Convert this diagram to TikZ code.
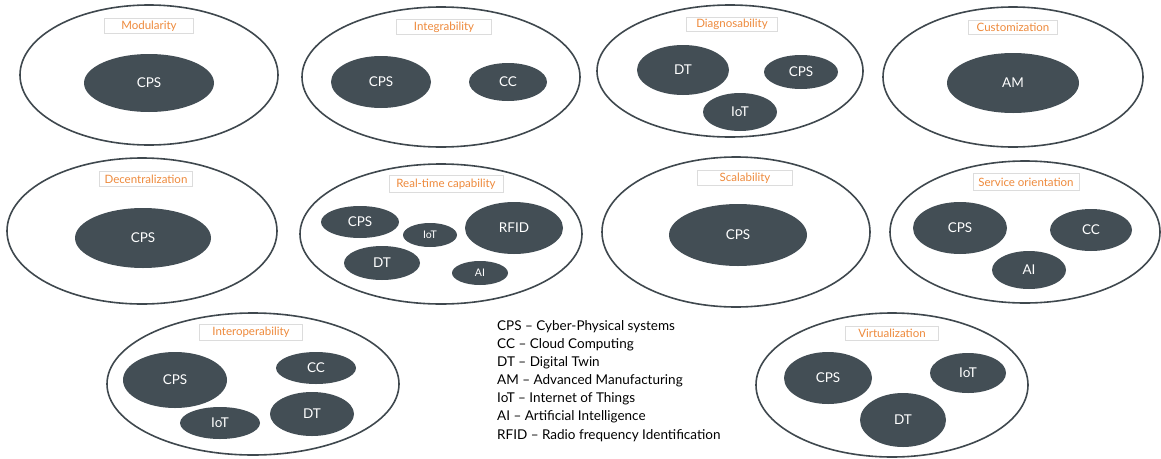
\documentclass[tikz,border=0pt]{standalone}
\usepackage{fontspec}
\setmainfont{Lato}
\usetikzlibrary{shapes.geometric}
\definecolor{slate}{HTML}{434E55}
\definecolor{rim}{HTML}{3F484E}
\definecolor{tag}{HTML}{EE8A3C}
\definecolor{tagrim}{HTML}{DCDCDC}
\tikzset{
  group/.style={ellipse, draw=rim, line width=1.6pt, fill=white, inner sep=0pt},
  tech/.style={ellipse, fill=slate, text=white, inner sep=0pt, font=\fontsize{13.5}{15}\selectfont},
  techsmall/.style={tech, font=\fontsize{10.5}{12}\selectfont},
  tagbox/.style={draw=tagrim, line width=0.8pt, fill=white, text=tag, inner sep=0pt,
    font=\fontsize{11.5}{13}\selectfont},
  legend/.style={anchor=west, inner sep=0pt, font=\fontsize{13.5}{15}\selectfont}
}
\newcommand{\grp}[5]{\node[group, minimum width=#3pt, minimum height=#4pt] (#5) at (#1,#2) {};}
\newcommand{\tagat}[6]{\node[tagbox, minimum width=#3pt, minimum height=#4pt] (#5) at (#1,#2) {#6};}
\newcommand{\tch}[6]{\node[tech, minimum width=#3pt, minimum height=#4pt] (#5) at (#1,#2) {#6};}
\newcommand{\tchs}[6]{\node[techsmall, minimum width=#3pt, minimum height=#4pt] (#5) at (#1,#2) {#6};}
\begin{document}
\begin{tikzpicture}[x=1pt, y=-1pt]
\useasboundingbox (0,0) rectangle (1161,458);

% Modularity
\grp{149}{75}{258}{140}{mod}
\tagat{149}{26}{89}{15}{modtag}{Modularity}
\tch{149}{83}{130}{58}{modcps}{CPS}

% Integrability
\grp{441}{77}{278}{140}{int}
\tagat{444}{27}{95}{15}{inttag}{Integrability}
\tch{381}{82}{100}{52}{intcps}{CPS}
\tch{508}{82}{78}{38}{intcc}{CC}

% Diagnosability
\grp{730}{71}{266}{132}{dia}
\tagat{732}{24}{91}{14}{diatag}{Diagnosability}
\tch{683}{70}{92}{50}{diadt}{DT}
\tch{801}{72}{74}{34}{diacps}{CPS}
\tch{740}{112}{74}{38}{diaiot}{IoT}

% Customization
\grp{1013}{77}{260}{140}{cus}
\tagat{1013}{27}{89}{14}{custag}{Customization}
\tch{1013}{83}{132}{60}{cusam}{AM}

% Decentralization
\grp{142}{231}{270}{146}{dec}
\tagat{146}{179}{93}{15}{dectag}{Decentralization}
\tch{143}{238}{136}{60}{deccps}{CPS}

% Real-time capability
\grp{441}{234}{282}{140}{rtc}
\tagat{446}{184}{114}{17}{rtctag}{Real-time capability}
\tch{360}{222}{78}{32}{rtccps}{CPS}
\tchs{430}{235}{54}{24}{rtciot}{IoT}
\tch{514}{228}{98}{52}{rtcrfid}{RFID}
\tch{382}{263}{76}{34}{rtcdt}{DT}
\tchs{480}{273}{56}{24}{rtcai}{AI}

% Scalability
\grp{736}{232}{268}{150}{sca}
\tagat{745}{178}{95}{15}{scatag}{Scalability}
\tch{738}{235}{138}{62}{scacps}{CPS}

% Service orientation
\grp{1025}{232}{270}{142}{ser}
\tagat{1026}{182}{106}{17}{sertag}{Service orientation}
\tch{960}{228}{94}{52}{sercps}{CPS}
\tch{1091}{230}{82}{42}{sercc}{CC}
\tch{1029}{270}{74}{38}{serai}{AI}

% Interoperability
\grp{253}{384}{292}{142}{iop}
\tagat{251}{332}{103}{16}{ioptag}{Interoperability}
\tch{175}{380}{104}{56}{iopcps}{CPS}
\tch{316}{368}{80}{32}{iopcc}{CC}
\tch{220}{423}{80}{32}{iopiot}{IoT}
\tch{312}{414}{84}{44}{iopdt}{DT}

% Virtualization
\grp{892}{385}{272}{144}{vir}
\tagat{892}{333}{93}{14}{virtag}{Virtualization}
\tch{828}{378}{88}{52}{vircps}{CPS}
\tch{968}{373}{76}{40}{viriot}{IoT}
\tch{903}{420}{86}{54}{virdt}{DT}

% Abbreviations
\node[legend] (l1) at (497,327) {CPS -- Cyber-Physical systems};
\node[legend] (l2) at (497,345) {CC -- Cloud Computing};
\node[legend] (l3) at (497,363) {DT -- Digital Twin};
\node[legend] (l4) at (497,381) {AM -- Advanced Manufacturing};
\node[legend] (l5) at (497,399) {IoT -- Internet of Things};
\node[legend] (l6) at (497,417) {AI -- Artificial Intelligence};
\node[legend] (l7) at (497,436) {RFID -- Radio frequency Identification};
\end{tikzpicture}
\end{document}
